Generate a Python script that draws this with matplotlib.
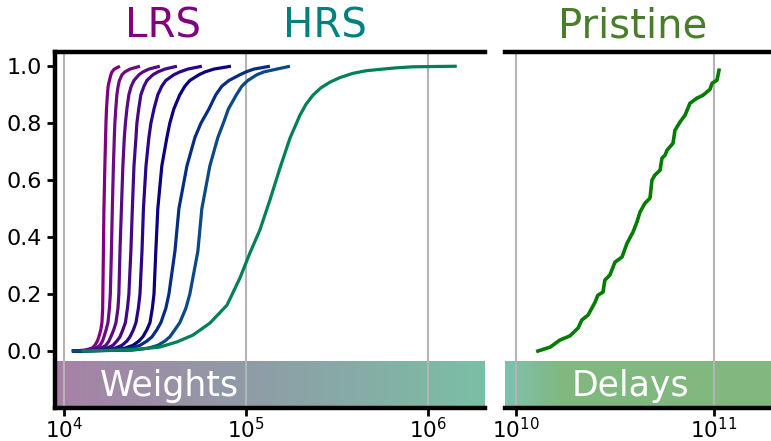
import numpy as np
import matplotlib
matplotlib.use("Agg")
import matplotlib.pyplot as plt
from matplotlib.colors import LinearSegmentedColormap
from matplotlib.transforms import blended_transform_factory

# cumulative fraction levels shared by the weight curves
levels = [0, 0.003, 0.01, 0.02, 0.035, 0.05, 0.075, 0.1, 0.15, 0.2, 0.35, 0.5,
          0.65, 0.75, 0.8, 0.85, 0.9, 0.93, 0.95, 0.97, 0.98, 0.99, 1.0]

# log10 of the weight for each conductance state, from LRS towards HRS
log_w_states = [
    [4.044, 4.115, 4.154, 4.170, 4.184, 4.192, 4.203, 4.209, 4.213, 4.214, 4.217, 4.220,
     4.225, 4.229, 4.231, 4.234, 4.239, 4.243, 4.250, 4.258, 4.264, 4.277, 4.308],
    [4.044, 4.132, 4.176, 4.198, 4.212, 4.220, 4.232, 4.242, 4.250, 4.255, 4.261, 4.266,
     4.272, 4.277, 4.280, 4.285, 4.291, 4.298, 4.305, 4.319, 4.335, 4.363, 4.418],
    [4.044, 4.154, 4.203, 4.231, 4.247, 4.258, 4.274, 4.286, 4.297, 4.302, 4.308, 4.316,
     4.324, 4.332, 4.338, 4.346, 4.357, 4.370, 4.385, 4.412, 4.434, 4.467, 4.527],
    [4.044, 4.181, 4.236, 4.269, 4.291, 4.308, 4.324, 4.338, 4.349, 4.357, 4.368, 4.376,
     4.385, 4.396, 4.401, 4.411, 4.423, 4.440, 4.456, 4.489, 4.516, 4.555, 4.621],
    [4.044, 4.214, 4.280, 4.319, 4.346, 4.363, 4.382, 4.396, 4.409, 4.418, 4.429, 4.437,
     4.451, 4.467, 4.478, 4.495, 4.516, 4.538, 4.560, 4.604, 4.637, 4.681, 4.758],
    [4.044, 4.264, 4.335, 4.379, 4.412, 4.434, 4.456, 4.473, 4.486, 4.495, 4.505, 4.516,
     4.538, 4.566, 4.582, 4.604, 4.637, 4.665, 4.692, 4.742, 4.775, 4.824, 4.918],
    [4.044, 4.280, 4.363, 4.418, 4.456, 4.484, 4.511, 4.533, 4.560, 4.577, 4.610, 4.632,
     4.676, 4.720, 4.753, 4.797, 4.835, 4.868, 4.907, 4.967, 5.000, 5.044, 5.132],
    [4.044, 4.374, 4.462, 4.516, 4.555, 4.582, 4.610, 4.637, 4.670, 4.692, 4.736, 4.758,
     4.802, 4.846, 4.876, 4.904, 4.948, 4.978, 5.011, 5.060, 5.099, 5.170, 5.242],
]
state_colors = ["#800080", "#6e0a82", "#5a0a85", "#440887", "#2a0588",
                "#0a0080", "#062c84", "#0a4886"]

# highest resistance state
log_w_hrs = [4.099, 4.346, 4.434, 4.527, 4.621, 4.709, 4.802, 4.896, 4.967, 5.022,
             5.077, 5.132, 5.187, 5.242, 5.297, 5.330, 5.368, 5.412, 5.462, 5.516,
             5.588, 5.659, 5.736, 5.819, 5.918, 6.159]
cdf_hrs = [0, 0.004, 0.008, 0.014, 0.032, 0.056, 0.098, 0.161, 0.256, 0.344,
           0.425, 0.53, 0.642, 0.747, 0.828, 0.866, 0.898, 0.924, 0.944, 0.960,
           0.975, 0.984, 0.989, 0.994, 0.998, 1.0]

# pristine device delays
delays = [1.29e10, 1.49e10, 1.67e10, 1.87e10, 2.06e10, 2.15e10, 2.31e10, 2.51e10,
          2.59e10, 2.75e10, 2.81e10, 2.98e10, 3.16e10, 3.43e10, 3.64e10, 3.90e10,
          4.08e10, 4.23e10, 4.48e10, 4.75e10, 4.86e10, 5.03e10, 5.34e10, 5.46e10,
          5.66e10, 5.79e10, 6.21e10, 6.35e10, 6.73e10, 7.14e10, 7.56e10, 8.20e10,
          8.79e10, 9.55e10, 9.77e10, 1.035e11, 1.06e11]
cdf_delays = [0.0, 0.014, 0.039, 0.053, 0.081, 0.109, 0.126, 0.172, 0.196, 0.207,
              0.249, 0.267, 0.312, 0.330, 0.379, 0.418, 0.453, 0.488, 0.519, 0.537,
              0.600, 0.618, 0.635, 0.677, 0.688, 0.705, 0.730, 0.775, 0.804, 0.828,
              0.870, 0.888, 0.898, 0.919, 0.940, 0.951, 0.986]

plt.rcParams["font.family"] = "DejaVu Sans"

fig = plt.figure(figsize=(7.71, 4.41), dpi=100)
ax_w = fig.add_axes([0.0713, 0.0748, 0.5577, 0.8073])
ax_d = fig.add_axes([0.655, 0.0748, 0.345, 0.8073])

ylim = (-0.2, 1.05)
band_top = -0.035
w_range = (8.93e3, 2.06e6)
d_range = (8.8e9, 1.94e11)


def style_axes(ax, show_left):
    ax.set_xscale("log")
    ax.set_ylim(*ylim)
    ax.minorticks_off()
    ax.grid(True, axis="x", color="#b4b4b4", linewidth=1.5)
    ax.spines["right"].set_visible(False)
    ax.spines["left"].set_visible(show_left)
    for s in ("top", "bottom", "left"):
        ax.spines[s].set_linewidth(3.2)
    ax.tick_params(axis="both", labelsize=16, width=2, length=6, color="black")
    ax.tick_params(axis="x", labelsize=15.5, pad=0.5)
    if show_left:
        ax.set_yticks([0, 0.2, 0.4, 0.6, 0.8, 1.0])
        ax.set_yticklabels(["0.0", "0.2", "0.4", "0.6", "0.8", "1.0"])
    else:
        ax.set_yticks([])


def gradient_band(ax, xr, cmap):
    # colour strip under the curves, spread evenly in log space
    edges = np.logspace(np.log10(xr[0]), np.log10(xr[1]), 257)
    vals = np.linspace(0, 1, 256).reshape(1, -1)
    ax.pcolormesh(edges, [ylim[0], band_top], vals, cmap=cmap, shading="flat",
                  zorder=0, rasterized=True)


# weights panel
ax_w.set_xlim(*w_range)
style_axes(ax_w, True)
ax_w.set_xticks([1e4, 1e5, 1e6])

band_cmap = LinearSegmentedColormap.from_list(
    "band_w", [(0, "#a880a6"), (0.444, "#8f9ba6"), (1, "#7abfa5")])
gradient_band(ax_w, w_range, band_cmap)

for lw_state, c in zip(log_w_states, state_colors):
    ax_w.plot(10 ** np.array(lw_state), levels, color=c, linewidth=2.3,
              solid_capstyle="butt", zorder=3)
ax_w.plot(10 ** np.array(log_w_hrs), cdf_hrs, color="#008055", linewidth=2.3,
          solid_capstyle="butt", zorder=3)
ax_w.text(0.265, (band_top + ylim[0]) / 2 - 0.005, "Weights", color="white",
          fontsize=25, ha="center", va="center", zorder=4,
          transform=blended_transform_factory(ax_w.transAxes, ax_w.transData))

# delays panel
ax_d.set_xlim(*d_range)
style_axes(ax_d, False)
ax_d.set_xticks([1e10, 1e11])

band_cmap_d = LinearSegmentedColormap.from_list(
    "band_d", [(0, "#7ec0b0"), (0.21, "#80b880"), (1, "#80b880")])
gradient_band(ax_d, d_range, band_cmap_d)
ax_d.plot(delays, cdf_delays, color="#007d00", linewidth=2.6, zorder=3)
ax_d.text(0.47, (band_top + ylim[0]) / 2 - 0.005, "Delays", color="white",
          fontsize=25, ha="center", va="center", zorder=4,
          transform=blended_transform_factory(ax_d.transAxes, ax_d.transData))

# state labels above the panels
fig.text(163 / 771, 1 - 27 / 441, "LRS", color="#800080", fontsize=29,
         ha="center", va="center")
fig.text(325 / 771, 1 - 27 / 441, "HRS", color="#008080", fontsize=29,
         ha="center", va="center")
fig.text(633 / 771, 1 - 27 / 441, "Pristine", color="#4a7d2a", fontsize=29,
         ha="center", va="center")

fig.savefig("out.png", dpi=100)
